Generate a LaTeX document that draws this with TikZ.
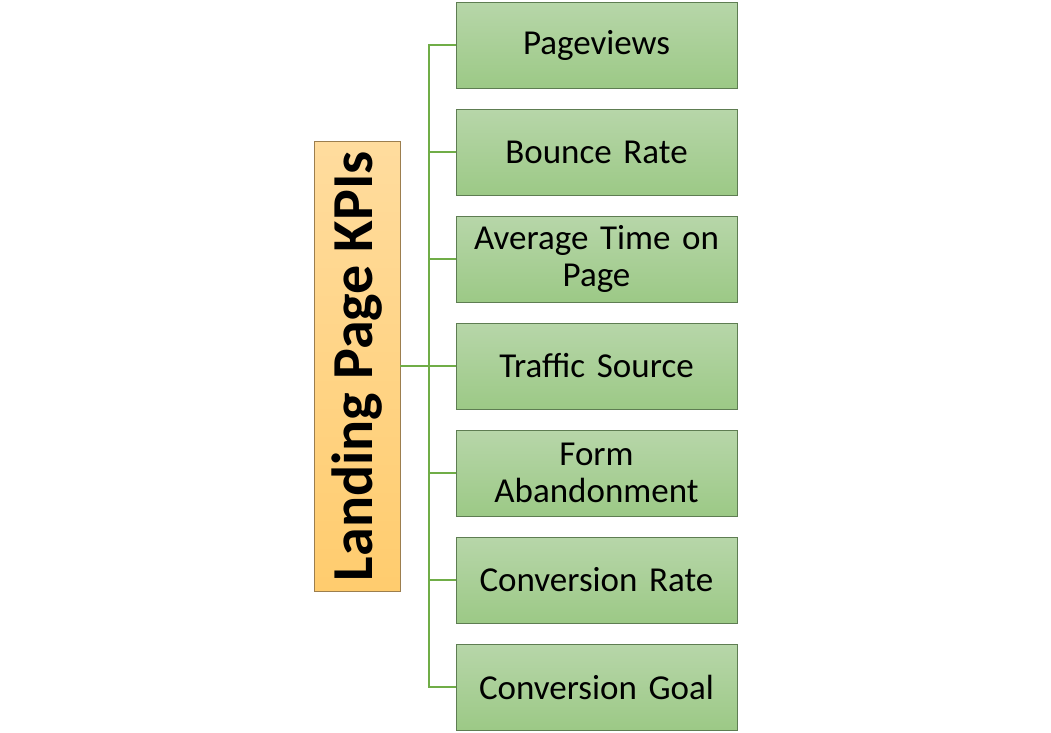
\documentclass[tikz,border=0pt]{standalone}
\usepackage{fontspec}
\setmainfont{Carlito}
\definecolor{kpiline}{HTML}{70AD47}
\definecolor{kpitop}{HTML}{B7D6A9}
\definecolor{kpibot}{HTML}{9CC986}
\definecolor{kpiedge}{HTML}{5E7D52}
\definecolor{headtop}{HTML}{FFDC9E}
\definecolor{headbot}{HTML}{FFCC6E}
\definecolor{headedge}{HTML}{9C7E4E}
\tikzset{
  kpibox/.style={draw=kpiedge, top color=kpitop, bottom color=kpibot, minimum width=281pt, minimum height=86pt, text width=275pt, align=center, font=\fontsize{35}{37}\selectfont, inner sep=0pt},
  headbox/.style={draw=headedge, top color=headtop, bottom color=headbot, minimum width=86pt, minimum height=450pt, inner sep=0pt},
  branch/.style={draw=kpiline, line width=1.2pt}
}
\begin{document}
\begin{tikzpicture}[x=1pt,y=-1pt]
\useasboundingbox (0,0) rectangle (1051,732);
\node[headbox] (head) at (357,366) {};
\node[rotate=90, font=\fontsize{58}{60}\bfseries\selectfont] at (head.center) {Landing Page KPIs};
\coordinate (spine) at (429,366);
\node[kpibox] (k1) at (596.5,45) {Pageviews};
\node[kpibox] (k2) at (596.5,152) {Bounce Rate};
\node[kpibox] (k3) at (596.5,259) {Average Time on\\Page};
\node[kpibox] (k4) at (596.5,366) {Traffic Source};
\node[kpibox] (k5) at (596.5,473) {Form\\Abandonment};
\node[kpibox] (k6) at (596.5,580) {Conversion Rate};
\node[kpibox] (k7) at (596.5,687) {Conversion Goal};
\draw[branch] (head.east) -- (spine);
\draw[branch] (k1.west) -| (spine) |- (k7.west);
\draw[branch] (spine |- k2.west) -- (k2.west);
\draw[branch] (spine |- k3.west) -- (k3.west);
\draw[branch] (spine |- k4.west) -- (k4.west);
\draw[branch] (spine |- k5.west) -- (k5.west);
\draw[branch] (spine |- k6.west) -- (k6.west);
\end{tikzpicture}
\end{document}
